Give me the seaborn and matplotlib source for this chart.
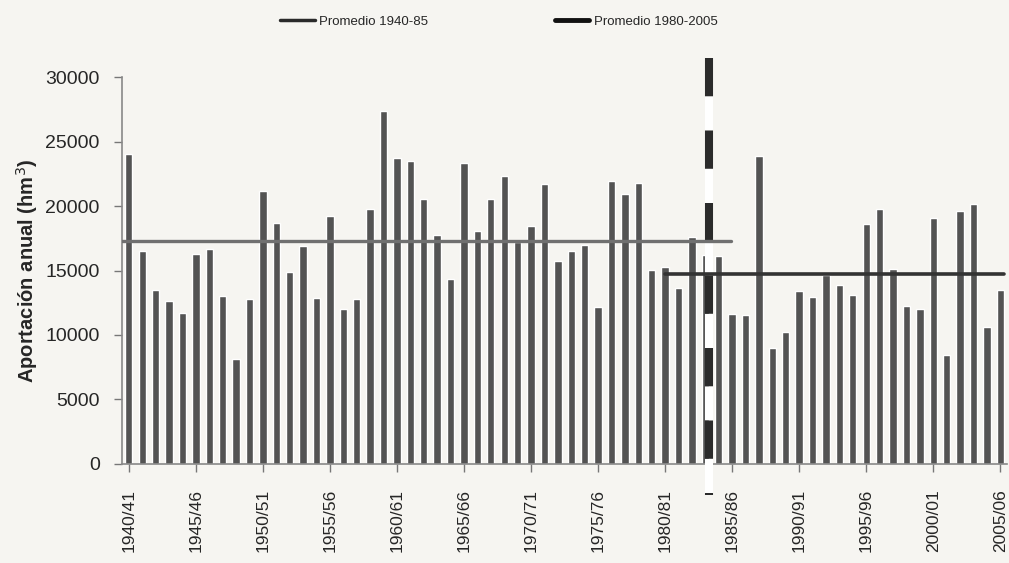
import matplotlib
matplotlib.use("Agg")
import matplotlib.pyplot as plt
import seaborn as sns
from matplotlib.lines import Line2D

# hydrological years 1940/41 ... 2005/06
start_years = list(range(1940, 2006))
seasons = [f"{y}/{(y + 1) % 100:02d}" for y in start_years]

# annual inflow (hm3)
aportacion = [
    24000, 16500, 13500, 12600, 11700, 16300, 16650, 13000, 8100, 12800,
    21200, 18700, 14900, 16930, 12850, 19230, 12020, 12780, 19780, 27370,
    23700, 23490, 20520, 17780, 14320, 23330, 18050, 20530, 22330, 17180,
    18450, 21690, 15770, 16530, 16950, 12190, 21960, 20930, 21820, 15040,
    15250, 13640, 17590, 16200, 16110, 11660, 11550, 23890, 9010, 10240,
    13420, 12930, 14640, 13860, 13070, 18600, 19750, 15110, 12260, 12000,
    19070, 8440, 19630, 20170, 10610, 13470,
]

promedio_1940_85 = 17260
promedio_1980_2005 = 14750

tick_labels = seasons[::5]
y_ticks = [0, 5000, 10000, 15000, 20000, 25000, 30000]

BG = "#f6f5f1"
BAR = "#535353"


def main():
    sns.set_style("white")
    plt.rcParams["font.family"] = ["Liberation Sans", "DejaVu Sans"]

    fig = plt.figure(figsize=(10.09, 5.63), dpi=100, facecolor=BG)
    ax = fig.add_axes([0.121, 0.176, 0.877, 0.687], facecolor=BG)

    sns.barplot(x=seasons, y=aportacion, color=BAR, width=0.55,
                saturation=1, ax=ax, zorder=2)

    n = len(seasons)
    i80 = seasons.index("1980/81")
    i83 = seasons.index("1983/84")

    # break between the two periods
    ax.plot([i83 + 0.3, i83 + 0.3], [31500, -2400], color="#2b2b2b",
            lw=5.8, ls=(0, (4.75, 4.25)), gapcolor="white",
            solid_capstyle="butt", dash_capstyle="butt",
            clip_on=False, zorder=3)

    ax.plot([-0.5, i83 + 1.9], [promedio_1940_85] * 2,
            color="#707070", lw=2.4, zorder=4)
    ax.plot([i80, n - 0.7], [promedio_1980_2005] * 2,
            color="#333333", lw=2.6, zorder=4)

    ax.set_xlim(-0.5, n - 0.5)
    ax.set_ylim(0, 30000)
    ax.set_yticks(y_ticks)
    ax.set_yticklabels([str(v) for v in y_ticks], fontsize=14)
    ax.set_xticks(range(0, n, 5))
    ax.set_xticklabels(tick_labels, rotation=90, fontsize=12.5)
    ax.tick_params(axis="both", direction="out", length=6, width=1,
                   color="#777777", left=True, bottom=True)
    ax.tick_params(axis="y", pad=10)
    ax.tick_params(axis="x", pad=12)

    for side in ("top", "right"):
        ax.spines[side].set_visible(False)
    for side in ("left", "bottom"):
        ax.spines[side].set_color("#888888")
        ax.spines[side].set_linewidth(1.2)

    ax.set_xlabel("")
    ax.set_ylabel("Aportación anual (hm$^3$)", fontsize=14.5,
                  fontweight="bold", labelpad=4)

    h1 = Line2D([], [], color="#2a2a2a", lw=2.5)
    h2 = Line2D([], [], color="#111111", lw=3.5)
    fig.legend([h1, h2], ["Promedio 1940-85", "Promedio 1980-2005"],
               loc="upper left", bbox_to_anchor=(0.266, 0.993), ncol=2,
               frameon=False, fontsize=9.5, handlelength=2.6,
               handletextpad=0.35, columnspacing=9.6)

    fig.savefig("out.png", dpi=100, facecolor=BG)
    plt.close(fig)


if __name__ == "__main__":
    main()
